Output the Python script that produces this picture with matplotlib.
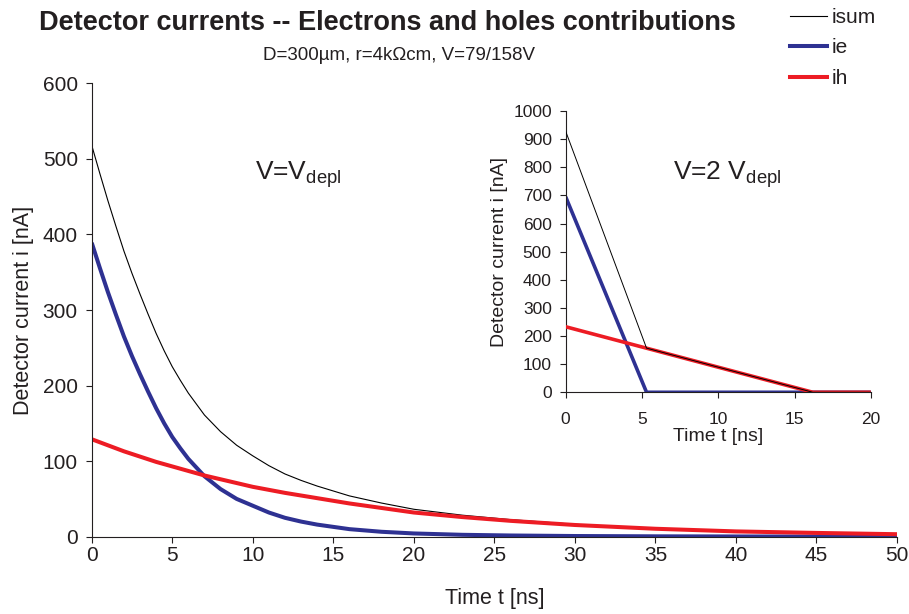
import matplotlib
matplotlib.use("Agg")
import matplotlib.pyplot as plt
from matplotlib.lines import Line2D

plt.rcParams['font.family'] = ['Liberation Sans', 'DejaVu Sans']
plt.rcParams['mathtext.fontset'] = 'custom'
plt.rcParams['mathtext.rm'] = 'Liberation Sans'
plt.rcParams['mathtext.it'] = 'Liberation Sans'
plt.rcParams['mathtext.default'] = 'regular'

TXT = '#231f20'
BLUE = '#2e3192'
RED = '#ed1c24'

# ---- main chart data (V = V_depl) ----
t_main = [0, 0.5, 1, 1.5, 2, 2.5, 3, 3.5, 4, 4.5, 5, 5.5, 6, 7, 8, 9, 10, 11, 12, 13, 14, 16, 18, 20, 23, 26, 30, 35, 40, 45, 50]
ie_main = [389, 356, 324, 294, 265, 239, 215, 192, 170, 150, 132, 117, 103, 80, 63, 50, 41, 32, 25, 20, 16, 10, 6.5, 4.3, 2.5, 1.6, 0.9, 0.5, 0.3, 0.2, 0.1]
ih_main = [129, 125, 121, 117, 113, 109.5, 106, 102.5, 99, 96, 93, 90, 87, 81, 76, 71, 66, 62, 58, 54.5, 51, 44, 38, 32, 26, 21, 15.5, 10.5, 7, 5, 3.3]
isum_main = [518, 481, 445, 411, 378, 348.5, 321, 294.5, 269, 246, 225, 207, 190, 161, 139, 121, 107, 94, 83, 74.5, 67, 54, 44.5, 36.3, 28.5, 22.6, 16.4, 11, 7.3, 5.2, 3.4]

# ---- inset data (V = 2 V_depl) ----
t_ie2 = [0, 5.3, 20]
ie2 = [695, 0, 0]
t_ih2 = [0, 16.2, 20]
ih2 = [233, 0, 0]
t_sum2 = [0, 5.3, 16.2, 20]
isum2 = [928, 157, 0, 0]

main_xticks = [0, 5, 10, 15, 20, 25, 30, 35, 40, 45, 50]
main_yticks = [0, 100, 200, 300, 400, 500, 600]
inset_xticks = [0, 5, 10, 15, 20]
inset_yticks = [0, 100, 200, 300, 400, 500, 600, 700, 800, 900, 1000]

fig = plt.figure(figsize=(9.09, 6.14), dpi=100)

def style(ax, fs, xpad, ypad):
    for s in ('top', 'right'):
        ax.spines[s].set_visible(False)
    for s in ('left', 'bottom'):
        ax.spines[s].set_color(TXT)
        ax.spines[s].set_linewidth(0.8)
    ax.tick_params(direction='out', length=4, width=0.8, colors=TXT,
                   labelsize=fs, labelcolor=TXT)
    ax.tick_params(axis='x', pad=xpad)
    ax.tick_params(axis='y', pad=ypad)

# main axes
ax = fig.add_axes([0.1009, 0.1259, 0.8859, 0.7384])
ax.plot(t_main, isum_main, color='black', lw=0.8)
ax.plot(t_main, ie_main, color=BLUE, lw=2.9, solid_capstyle='butt')
ax.plot(t_main, ih_main, color=RED, lw=2.9, solid_capstyle='butt')
ax.set_xlim(0, 50)
ax.set_ylim(0, 600)
ax.set_xticks(main_xticks)
ax.set_yticks(main_yticks)
style(ax, 15, 2.5, 6)
ax.set_xlabel('Time t [ns]', fontsize=15.5, color=TXT, labelpad=17)
ax.set_ylabel('Detector current i [nA]', fontsize=15.5, color=TXT, labelpad=6)
ax.text(10.14, 472.8, r'V=V$_{depl}$', fontsize=19, color=TXT, ha='left', va='baseline')

# inset axes
ax2 = fig.add_axes([0.6223, 0.3611, 0.3357, 0.4581])
ax2.plot(t_ie2, ie2, color=BLUE, lw=2.6, solid_capstyle='butt', zorder=2)
ax2.plot(t_ih2, ih2, color=RED, lw=2.6, solid_capstyle='butt', zorder=3)
ax2.plot(t_sum2, isum2, color='black', lw=0.7, zorder=4)
ax2.set_xlim(0, 20)
ax2.set_ylim(0, 1000)
ax2.set_xticks(inset_xticks)
ax2.set_yticks(inset_yticks)
ax2.patch.set_alpha(0)
style(ax2, 12.5, 10, 6)
ax2.set_xlabel('Time t [ns]', fontsize=14, color=TXT, labelpad=1)
ax2.set_ylabel('Detector current i [nA]', fontsize=14, color=TXT, labelpad=4)
ax2.text(7.05, 754.7, r'V=2 V$_{depl}$', fontsize=19, color=TXT, ha='left', va='baseline')

# titles
fig.text(0.4263, 0.963, 'Detector currents -- Electrons and holes contributions',
         fontsize=19.5, fontweight='bold', color=TXT, ha='center', va='center')
fig.text(0.4384, 0.909, 'D=300\u00b5m, r=4k\u03a9cm, V=79/158V',
         fontsize=13.5, color=TXT, ha='center', va='center')

# legend
handles = [Line2D([], [], color='black', lw=0.8),
           Line2D([], [], color=BLUE, lw=2.9),
           Line2D([], [], color=RED, lw=2.9)]
fig.legend(handles, ['isum', 'ie', 'ih'], loc='upper left',
           bbox_to_anchor=(0.869, 0.987), frameon=False, fontsize=15,
           handlelength=1.8, handletextpad=0.2, labelspacing=0.55,
           borderpad=0.0, borderaxespad=0.0, labelcolor=TXT)

fig.savefig('out.png', dpi=100)
